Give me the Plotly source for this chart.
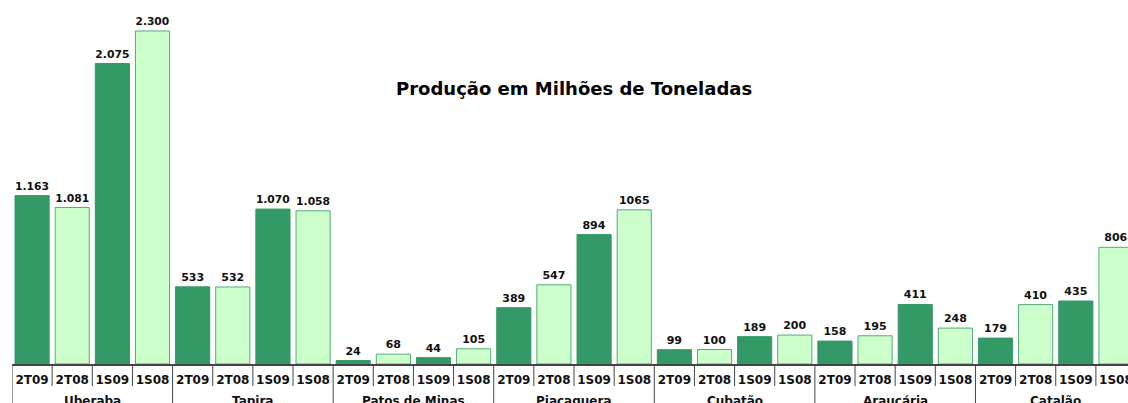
import plotly.graph_objects as go

groups = ["Uberaba", "Tapira", "Patos de Minas", "Piacaguera", "Cubatão", "Araucária", "Catalão"]
periods = ["2T09", "2T08", "1S09", "1S08"]
values = {
    "Uberaba": [1163, 1081, 2075, 2300],
    "Tapira": [533, 532, 1070, 1058],
    "Patos de Minas": [24, 68, 44, 105],
    "Piacaguera": [389, 547, 894, 1065],
    "Cubatão": [99, 100, 189, 200],
    "Araucária": [158, 195, 411, 248],
    "Catalão": [179, 410, 435, 806],
}
labels = {
    "Uberaba": ["1.163", "1.081", "2.075", "2.300"],
    "Tapira": ["533", "532", "1.070", "1.058"],
    "Patos de Minas": ["24", "68", "44", "105"],
    "Piacaguera": ["389", "547", "894", "1065"],
    "Cubatão": ["99", "100", "189", "200"],
    "Araucária": ["158", "195", "411", "248"],
    "Catalão": ["179", "410", "435", "806"],
}
title = "Produção em Milhões de Toneladas"

DARK = "#339966"
LIGHT = "#CCFFCC"
FONT = "DejaVu Sans"
AXC = "#444444"

keys, ticktext, yv, tv, fills, lines = [], [], [], [], [], []
for g in groups:
    for i, p in enumerate(periods):
        keys.append(f"{g}|{p}")
        ticktext.append(p)
        yv.append(values[g][i])
        tv.append(labels[g][i])
        dark = p in ("2T09", "1S09")
        fills.append(DARK if dark else LIGHT)
        lines.append(DARK if dark else "#55aa77")

fig = go.Figure(go.Bar(
    x=keys, y=yv, text=tv, textposition="outside",
    textfont=dict(family=FONT, size=11, color="#111111", weight="bold"),
    marker=dict(color=fills, line=dict(color=lines, width=1)),
    cliponaxis=False, hoverinfo="skip",
))

n = len(keys)
# separators between period slots (short) and between groups (long)
for b in range(n + 1):
    is_group = b % len(periods) == 0
    fig.add_shape(type="line", xref="x", yref="paper", x0=b - 0.5, x1=b - 0.5,
                  ysizemode="pixel", yanchor=0, y0=0, y1=-40 if is_group else -22,
                  line=dict(color=AXC, width=1), layer="above")

# group names under the period labels
for gi, g in enumerate(groups):
    fig.add_annotation(text=g, xref="x", yref="paper", x=gi * len(periods) + (len(periods) - 1) / 2,
                       y=0, yshift=-37, showarrow=False, xanchor="center", yanchor="middle",
                       font=dict(family=FONT, size=12, color="#111111", weight="bold"))

fig.add_annotation(text=title, xref="paper", yref="paper", x=0.5036, y=0.758,
                   showarrow=False, xanchor="center", yanchor="middle",
                   font=dict(family=FONT, size=18, color="#000000", weight="bold"))

fig.update_layout(
    width=1128, height=403,
    margin=dict(l=12, r=0, t=0, b=39, autoexpand=False),
    plot_bgcolor="white", paper_bgcolor="white",
    bargap=0.15, showlegend=False, hovermode=False,
    font=dict(family=FONT, color="#111111"),
)
fig.update_xaxes(
    type="category", range=[-0.5, 27.3], automargin=False, tickangle=0,
    tickmode="array", tickvals=keys, ticktext=ticktext,
    showline=True, linecolor=AXC, linewidth=1.5, ticks="",
    ticklabelstandoff=4,
    tickfont=dict(family=FONT, size=12, color="#111111", weight="bold"),
    showgrid=False,
)
fig.update_yaxes(range=[0, 2514], visible=False, showgrid=False, automargin=False)

fig.write_html("out.html", config={"displayModeBar": False},
               post_script="document.body.style.margin='0';document.body.style.overflow='hidden';")
